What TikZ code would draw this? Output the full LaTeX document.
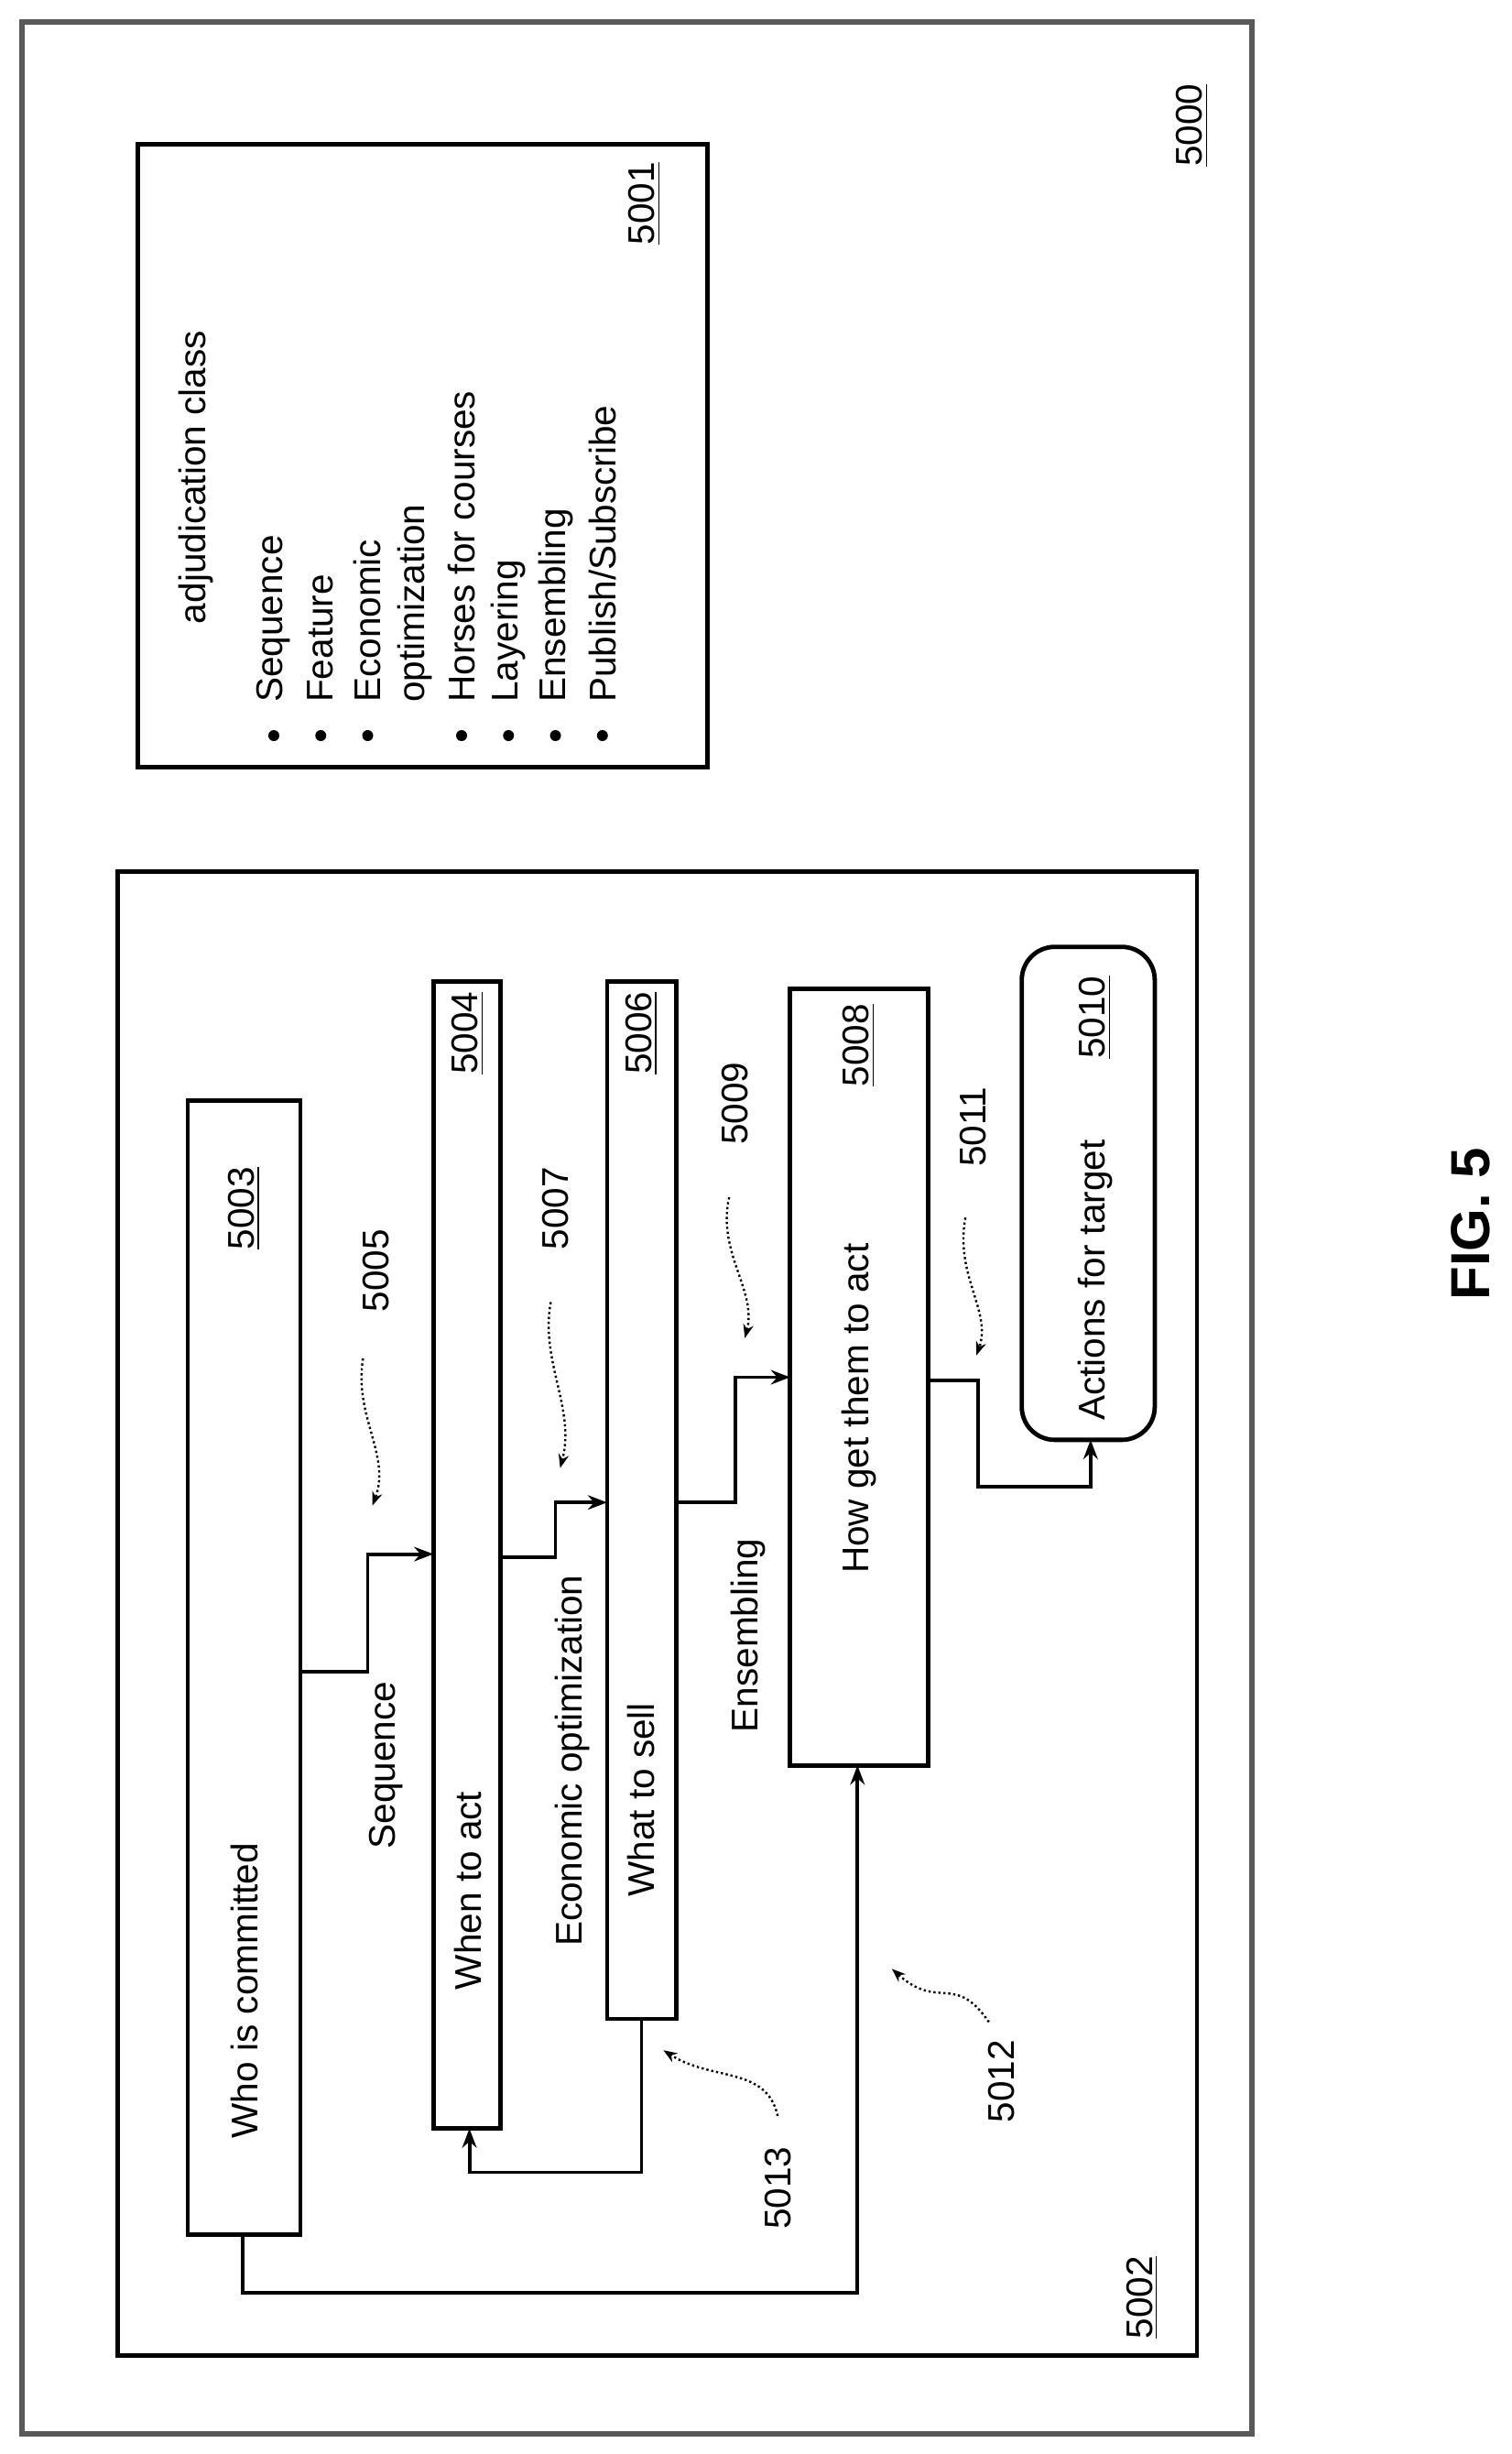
\documentclass[tikz,border=0pt]{standalone}
\usepackage{fontspec}
\setmainfont{Liberation Sans}
\usetikzlibrary{arrows.meta}
\begin{document}
\begin{tikzpicture}[x=0.02cm, y=-0.02cm,
	box/.style={draw, line width=1.6pt},
	txt/.style={rotate=90, font=\fontsize{13.5}{16}\selectfont},
	num/.style={rotate=90, font=\fontsize{13.5}{16}\selectfont},
	conn/.style={line width=1.3pt, -{Stealth[length=7pt]}},
	ref/.style={densely dotted, line width=0.8pt, -{Stealth[length=5pt]}}]
	\useasboundingbox (0,0) rectangle (966,1568);
	% frames
	\draw[line width=1.8pt, gray!70!black] (14,14) rectangle (800,1555);
	\node[num] (l5000) at (762,80) {\underline{5000}};
	\draw[box] (88,92) rectangle (452,490);
	\node[num] (l5001) at (412,130) {\underline{5001}};
	\node[txt] (title) at (125,305) {adjudication class};
	\foreach \x/\t/\b in {175/Sequence/1, 205/Feature/1, 235/Economic/1, 265/optimization/0,
		295/Horses for courses/1, 325/Layering/1, 355/Ensembling/1, 385/Publish\slash Subscribe/1}{
	  \node[txt, anchor=west] at (\x,455) {\t};
	  \ifnum\b=1 \fill (\x,470) circle (2pt); \fi
	}
	\draw[box] (75,557) rectangle (765,1505);
	\node[num] (l5002) at (730,1468) {\underline{5002}};
	% steps
	\draw[box] (120,703) rectangle (192,1428);
	\node[txt] (who) at (156,1272) {Who is committed};
	\node[num] at (156,772) {\underline{5003}};
	\draw[box] (277,627) rectangle (320,1360);
	\node[txt] (when) at (299,1208) {When to act};
	\node[num] at (299,660) {\underline{5004}};
	\draw[box] (388,627) rectangle (432,1290);
	\node[txt] (what) at (410,1150) {What to sell};
	\node[num] at (410,660) {\underline{5006}};
	\draw[box] (505,632) rectangle (593,1128);
	\node[txt] (how) at (549,900) {How get them to act};
	\node[num] at (549,668) {\underline{5008}};
	\draw[box, rounded corners=12pt] (653,605) rectangle (738,920);
	\node[txt] (act) at (700,818) {Actions for target};
	\node[num] at (700,650) {\underline{5010}};
	% connectors
	\draw[conn] (192,1068) -- (235,1068) -- (235,993) -- (277,993);
	\node[txt] at (247,1128) {Sequence};
	\draw[conn] (320,995) -- (355,995) -- (355,960) -- (388,960);
	\node[txt] at (366,1125) {Economic optimization};
	\draw[conn] (432,960) -- (470,960) -- (470,880) -- (505,880);
	\node[txt] at (478,1045) {Ensembling};
	\draw[conn] (593,882) -- (625,882) -- (625,950) -- (697,950) -- (697,920);
	\draw[conn] (155,1428) -- (155,1465) -- (548,1465) -- (548,1128);
	\draw[conn] (410,1290) -- (410,1388) -- (300,1388) -- (300,1360);
	% reference numerals
	\node[num] at (240,812) {5005};
	\draw[ref] (232,868) .. controls (226,905) and (250,930) .. (238,962);
	\node[num] at (355,772) {5007};
	\draw[ref] (352,832) .. controls (345,870) and (368,900) .. (358,938);
	\node[num] at (470,705) {5009};
	\draw[ref] (466,765) .. controls (458,800) and (484,825) .. (476,855);
	\node[num] at (622,720) {5011};
	\draw[ref] (617,778) .. controls (610,815) and (634,838) .. (624,866);
	\node[num] at (497,1398) {5013};
	\draw[ref] (497,1352) .. controls (490,1320) and (455,1330) .. (424,1310);
	\node[num] at (640,1330) {5012};
	\draw[ref] (632,1292) .. controls (610,1260) and (600,1285) .. (570,1258);
	\node[rotate=90, font=\bfseries\fontsize{20}{24}\selectfont] at (940,782) {FIG. 5};
\end{tikzpicture}
\end{document}
